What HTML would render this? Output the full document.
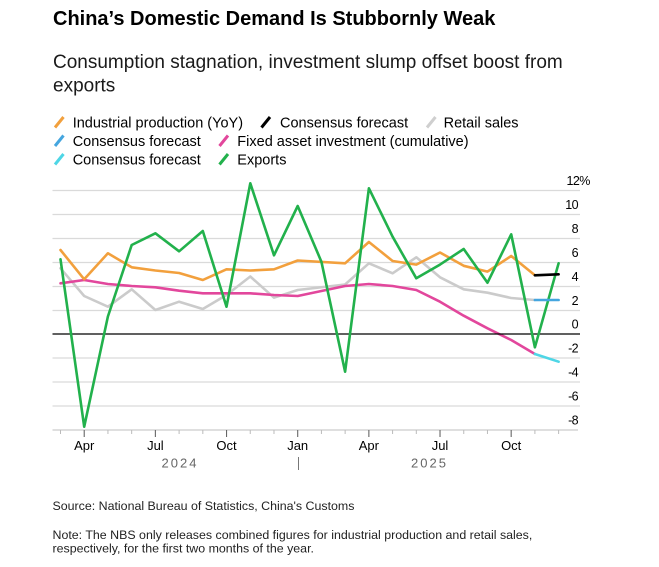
<!DOCTYPE html>
<html>
<head>
<meta charset="utf-8">
<style>
  html, body { margin: 0; padding: 0; background: #ffffff; }
  body { width: 659px; height: 567px; overflow: hidden; }
  svg { display: block; font-family: "Liberation Sans", Arial, sans-serif; }
</style>
</head>
<body>
<svg width="659" height="567" viewBox="0 0 659 567" xmlns="http://www.w3.org/2000/svg">
  <rect width="659" height="567" fill="#ffffff"/>

  <!-- Title -->
  <text x="53" y="25" font-size="20" font-weight="bold" fill="#000">China’s Domestic Demand Is Stubbornly Weak</text>
  <!-- Subtitle -->
  <text x="53" y="68" font-size="19" fill="#1a1a1a">Consumption stagnation, investment slump offset boost from</text>
  <text x="53" y="91.5" font-size="19" fill="#1a1a1a">exports</text>

  <!-- Legend -->
  <g stroke-width="3" stroke-linecap="butt">
    <line x1="55" y1="127.5" x2="63.5" y2="117" stroke="#F2A03D"/>
    <line x1="261.5" y1="127.5" x2="270" y2="117" stroke="#000000"/>
    <line x1="427" y1="127.5" x2="435.5" y2="117" stroke="#CFCFCF"/>
    <line x1="55" y1="146" x2="63.5" y2="135.5" stroke="#45A6DF"/>
    <line x1="219.5" y1="146" x2="228" y2="135.5" stroke="#E2479C"/>
    <line x1="55" y1="164.5" x2="63.5" y2="154" stroke="#4ED6E6"/>
    <line x1="219.5" y1="164.5" x2="228" y2="154" stroke="#22B14C"/>
  </g>
  <g font-size="14.5" fill="#000">
    <text x="72.7" y="127.5">Industrial production (YoY)</text>
    <text x="280" y="127.5">Consensus forecast</text>
    <text x="443.6" y="127.5">Retail sales</text>
    <text x="72.7" y="146">Consensus forecast</text>
    <text x="237.3" y="146">Fixed asset investment (cumulative)</text>
    <text x="72.7" y="164.5">Consensus forecast</text>
    <text x="237.3" y="164.5">Exports</text>
  </g>

  <!-- Gridlines -->
  <g stroke="#DADADA" stroke-width="1.2">
    <line x1="52.5" y1="190.5" x2="580" y2="190.5"/>
    <line x1="52.5" y1="214.5" x2="580" y2="214.5"/>
    <line x1="52.5" y1="238.5" x2="580" y2="238.5"/>
    <line x1="52.5" y1="262.5" x2="580" y2="262.5"/>
    <line x1="52.5" y1="286.5" x2="580" y2="286.5"/>
    <line x1="52.5" y1="310.5" x2="580" y2="310.5"/>
    <line x1="52.5" y1="358" x2="580" y2="358"/>
    <line x1="52.5" y1="382" x2="580" y2="382"/>
    <line x1="52.5" y1="406" x2="580" y2="406"/>
  </g>
  <!-- x axis -->
  <line x1="52.5" y1="430" x2="578" y2="430" stroke="#CCCCCC" stroke-width="1.3"/>
  <!-- ticks -->
  <g stroke="#BBBBBB" stroke-width="1">
    <line x1="60.5" y1="430" x2="60.5" y2="434"/>
    <line x1="107.94" y1="430" x2="107.94" y2="434"/>
    <line x1="131.66" y1="430" x2="131.66" y2="434"/>
    <line x1="179.1" y1="430" x2="179.1" y2="434"/>
    <line x1="202.82" y1="430" x2="202.82" y2="434"/>
    <line x1="250.26" y1="430" x2="250.26" y2="434"/>
    <line x1="273.98" y1="430" x2="273.98" y2="434"/>
    <line x1="321.42" y1="430" x2="321.42" y2="434"/>
    <line x1="345.14" y1="430" x2="345.14" y2="434"/>
    <line x1="392.58" y1="430" x2="392.58" y2="434"/>
    <line x1="416.3" y1="430" x2="416.3" y2="434"/>
    <line x1="463.74" y1="430" x2="463.74" y2="434"/>
    <line x1="487.46" y1="430" x2="487.46" y2="434"/>
    <line x1="534.9" y1="430" x2="534.9" y2="434"/>
    <line x1="558.62" y1="430" x2="558.62" y2="434"/>
  </g>
  <g stroke="#666666" stroke-width="1.1">
    <line x1="84.22" y1="430" x2="84.22" y2="437"/>
    <line x1="155.38" y1="430" x2="155.38" y2="437"/>
    <line x1="226.54" y1="430" x2="226.54" y2="437"/>
    <line x1="297.7" y1="430" x2="297.7" y2="437"/>
    <line x1="368.86" y1="430" x2="368.86" y2="437"/>
    <line x1="440.02" y1="430" x2="440.02" y2="437"/>
    <line x1="511.18" y1="430" x2="511.18" y2="437"/>
  </g>

  <!-- Y labels -->
  <g font-size="12.5" fill="#000" letter-spacing="-0.6">
    <text x="566.5" y="185">12%</text>
    <text x="578" y="209" text-anchor="end">10</text>
    <text x="578" y="233" text-anchor="end">8</text>
    <text x="578" y="257" text-anchor="end">6</text>
    <text x="578" y="281" text-anchor="end">4</text>
    <text x="578" y="305" text-anchor="end">2</text>
    <text x="578" y="328.5" text-anchor="end">0</text>
    <text x="578" y="352.5" text-anchor="end">-2</text>
    <text x="578" y="376.5" text-anchor="end">-4</text>
    <text x="578" y="400.5" text-anchor="end">-6</text>
    <text x="578" y="424.5" text-anchor="end">-8</text>
  </g>

  <!-- X labels -->
  <g font-size="13" fill="#000" text-anchor="middle">
    <text x="84.22" y="450">Apr</text>
    <text x="155.38" y="450">Jul</text>
    <text x="226.54" y="450">Oct</text>
    <text x="297.7" y="450">Jan</text>
    <text x="368.86" y="450">Apr</text>
    <text x="440.02" y="450">Jul</text>
    <text x="511.18" y="450">Oct</text>
  </g>
  <g font-size="13" fill="#666666" letter-spacing="2">
    <text x="161.5" y="467.5">2024</text>
    <text x="411" y="467.5">2025</text>
  </g>
  <line x1="298.5" y1="457" x2="298.5" y2="470" stroke="#777777" stroke-width="1"/>

  <!-- Series -->
  <g fill="none" stroke-width="2.6" stroke-linejoin="round" stroke-linecap="round">
    <polyline stroke="#CBCBCB" points="60.5,268.3 84.2,296 107.9,306.7 131.7,289.3 155.4,310 179.1,301.7 202.8,309 226.5,295 250.3,276.5 274,297.7 297.7,290 345.1,284.5 368.9,263.3 392.6,273.3 416.3,257.3 440,277.3 463.7,289.3 487.5,292.7 511.2,298 534.9,300"/>
    <polyline stroke="#E2479C" points="60.5,283.3 84.2,280 107.9,284 131.7,286 155.4,287.3 179.1,290.7 202.8,293.3 226.5,293.3 250.3,293.3 274,295 297.7,296 345.1,286 368.9,284 392.6,286 416.3,290 440,301.7 463.7,315.7 487.5,328.3 511.2,340 534.9,354"/>
    <polyline stroke="#F2A03D" points="60.5,250 84.2,279.3 107.9,253.3 131.7,267.3 155.4,270.5 179.1,273 202.8,280 226.5,269.3 250.3,270.5 274,269.3 297.7,260.5 345.1,263.3 368.9,242 392.6,261 416.3,264.6 440,252.5 463.7,265.8 487.5,271.6 511.2,256 534.9,275.3"/>
  </g>
  <!-- zero line -->
  <line x1="52.5" y1="334" x2="580" y2="334" stroke="#000000" stroke-width="1.2"/>
  <g fill="none" stroke-width="2.6" stroke-linejoin="round" stroke-linecap="round">
    <polyline stroke="#22B14C" points="60.5,259.3 84.2,426.7 107.9,316.5 131.7,245 155.4,233.3 179.1,251.3 202.8,231 226.5,306.7 250.3,183.3 274,255.3 297.7,206 321.4,261.7 345.1,371.7 368.9,188.3 392.6,236.7 416.3,278.3 440,264.6 463.7,249 487.5,282.7 511.2,234.3 534.9,347.3 558.6,263.3"/>
    <polyline stroke="#000000" points="534.9,275.3 558.6,274.3"/>
    <polyline stroke="#45A6DF" points="534.9,300 558.6,300"/>
    <polyline stroke="#4ED6E6" points="534.9,354 558.6,361.7"/>
  </g>

  <!-- Footer -->
  <g font-size="12.4" fill="#222">
    <text x="52.5" y="510">Source: National Bureau of Statistics, China's Customs</text>
    <text x="52.5" y="539">Note: The NBS only releases combined figures for industrial production and retail sales,</text>
    <text x="52.5" y="552.5">respectively, for the first two months of the year.</text>
  </g>
</svg>
</body>
</html>
